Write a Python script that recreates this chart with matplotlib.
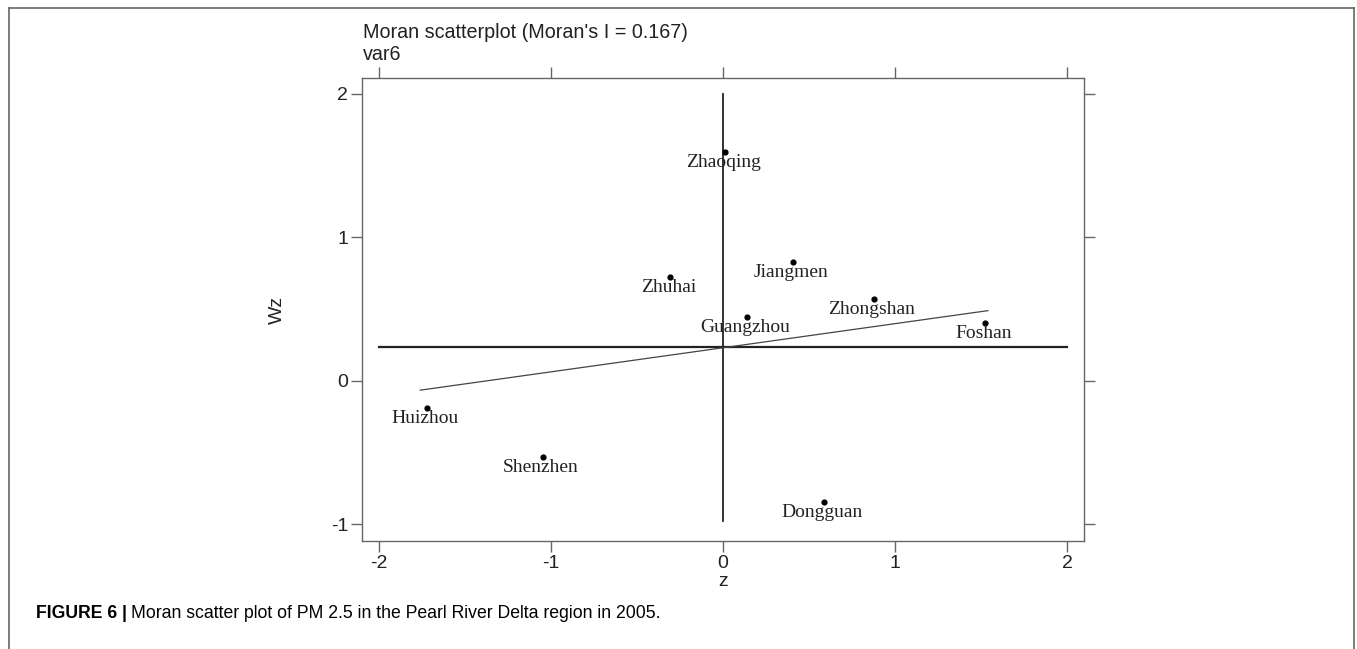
import matplotlib.pyplot as plt
from matplotlib.lines import Line2D

# Moran scatterplot data (z vs spatially lagged z)
cities = ['Zhaoqing', 'Jiangmen', 'Zhuhai', 'Guangzhou', 'Zhongshan',
          'Foshan', 'Huizhou', 'Shenzhen', 'Dongguan']
z = [0.013, 0.409, -0.306, 0.141, 0.878, 1.525, -1.723, -1.048, 0.589]
wz = [1.594, 0.826, 0.721, 0.442, 0.568, 0.401, -0.192, -0.529, -0.847]

mean_wz = 0.238
fit_x = [-1.76, 1.54]
fit_y = [-0.065, 0.489]

xticks = [-2, -1, 0, 1, 2]
yticks = [-1, 0, 1, 2]

W, H = 1357, 649
fig = plt.figure(figsize=(W / 100, H / 100), dpi=100)
ax = fig.add_axes([362 / W, 108 / H, (1084 - 362) / W, (541 - 78) / H])

sans = 'Liberation Sans'
serif = 'Liberation Serif'
frame = '#666666'
txt = '#222222'

# reference lines
ax.plot([-2, 2], [mean_wz, mean_wz], color='#222222', lw=1.6, zorder=2)
ax.plot([0, 0], [-0.98, 2.0], color='#222222', lw=1.3, zorder=2)
ax.plot(fit_x, fit_y, color='#444444', lw=0.9, zorder=2)

ax.scatter(z, wz, s=12, color='black', zorder=3)
for name, xv, yv in zip(cities, z, wz):
    ax.annotate(name, (xv, yv), xytext=(-1.5, -7.5), textcoords='offset points',
                ha='center', va='center', fontsize=14, family=serif,
                color=txt)

ax.set_xlim(-2.099, 2.099)
ax.set_ylim(-1.116, 2.11)
ax.set_xticks(xticks)
ax.set_yticks(yticks)
ax.set_xticklabels([str(t) for t in xticks], family=sans, fontsize=14, color=txt)
ax.set_yticklabels([str(t) for t in yticks], family=sans, fontsize=14, color=txt)
ax.tick_params(direction='out', length=8, width=1, color=frame, pad=2,
               top=True, right=True, labeltop=False, labelright=False)
for sp in ax.spines.values():
    sp.set_color(frame)
    sp.set_linewidth(1)

ax.set_xlabel('z', family=sans, fontsize=14, labelpad=1, color=txt)
ax.set_ylabel('Wz', family=sans, fontsize=14, labelpad=32, color=txt)

fig.text(363 / W, 1 - 33 / H, "Moran scatterplot (Moran's I = 0.167)",
         family=sans, fontsize=14.2, va='center', ha='left', color=txt)
fig.text(363 / W, 1 - 55 / H, 'var6', family=sans, fontsize=14.2,
         va='center', ha='left', color=txt)

# outer figure border (open at the bottom)
bx0, bx1, by = 9 / W, 1354 / W, 1 - 8 / H
for xs, ys in [([bx0, bx0], [0, by]), ([bx0, bx1], [by, by]), ([bx1, bx1], [by, 0])]:
    fig.add_artist(Line2D(xs, ys, color='#666666', lw=1.2))

# caption
t1 = fig.text(36 / W, 1 - 613 / H, 'FIGURE 6 |', family=sans, fontsize=12.7,
              weight='bold', va='center', ha='left')
fig.canvas.draw()
bb = t1.get_window_extent()
fig.text((bb.x1 + 4) / W, 1 - 613 / H,
         'Moran scatter plot of PM 2.5 in the Pearl River Delta region in 2005.',
         family=sans, fontsize=12.7, va='center', ha='left')

fig.savefig('out.png', dpi=100)
